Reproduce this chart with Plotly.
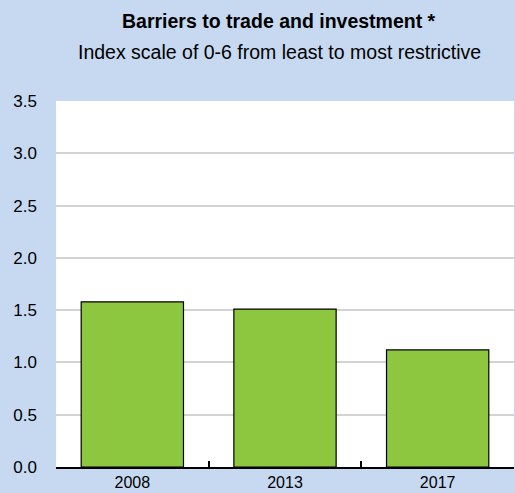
import plotly.graph_objects as go

years = ["2008", "2013", "2017"]
values = [1.58, 1.51, 1.12]
y_ticks = [0, 0.5, 1.0, 1.5, 2.0, 2.5, 3.0, 3.5]
y_labels = ["0.0", "0.5", "1.0", "1.5", "2.0", "2.5", "3.0", "3.5"]

FONT = "Liberation Sans, Arial"
BG = "#c6d9f0"
W, H = 515, 493
L, R, T, B = 56, 1, 101, 26
PW, PH = W - L - R, H - T - B

fig = go.Figure(go.Bar(
    x=years, y=values,
    marker=dict(color="#8dc63f", line=dict(color="black", width=1.2)),
    width=0.67,
))

def px_x(x):
    return (x - L) / PW

def px_y(y):
    return (H - B - y) / PH

fig.update_layout(
    width=W, height=H,
    paper_bgcolor=BG, plot_bgcolor="white",
    margin=dict(l=L, r=R, t=T, b=B, autoexpand=False),
    font=dict(family=FONT, size=17, color="black"),
    showlegend=False,
    xaxis=dict(
        automargin=False,
        showline=True, linecolor="black", linewidth=1.5,
        ticks="inside", tickson="boundaries", ticklen=6, tickcolor="black", tickwidth=1.5,
        showgrid=False, tickfont=dict(size=16), ticklabelstandoff=0,
    ),
    yaxis=dict(
        automargin=False,
        range=[0, 3.5], tickvals=y_ticks, ticktext=y_labels,
        showgrid=True, gridcolor="#d3d3d3", gridwidth=1.5,
        zeroline=False, showline=False, ticks="", ticklabelstandoff=18,
        tickfont=dict(size=17),
    ),
    annotations=[
        dict(text="<b>Barriers to trade and investment *</b>", x=px_x(279), y=px_y(21),
             xref="paper", yref="paper", yanchor="middle", xanchor="center",
             showarrow=False, font=dict(size=19.5, family=FONT)),
        dict(text="Index scale of 0-6 from least to most restrictive", x=px_x(279), y=px_y(52),
             xref="paper", yref="paper", yanchor="middle", xanchor="center",
             showarrow=False, font=dict(size=19.5, family=FONT)),
    ],
)
fig.write_html("out.html", config={"displayModeBar": False},
               post_script="document.body.style.margin='0';document.body.style.overflow='hidden';")
